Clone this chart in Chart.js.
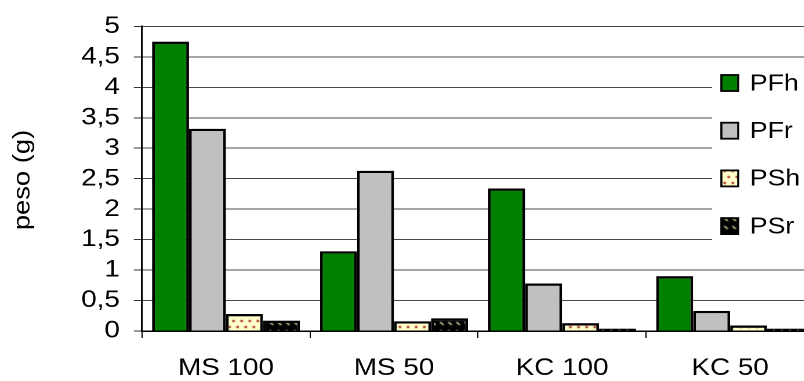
<!DOCTYPE html>
<html>
<head>
<meta charset="utf-8">
<script src="https://cdn.jsdelivr.net/npm/chart.js@4"></script>
<style>
  html, body { margin: 0; padding: 0; background: #fff; overflow: hidden; }
  #chart { display: block; }
</style>
</head>
<body>
<!-- drawn a little narrower and widened by CSS so the Arial text comes out broad -->
<canvas id="chart" width="720" height="381" style="width:835px;height:381px"></canvas>
<script>
// Data
const categories = ['MS 100', 'MS 50', 'KC 100', 'KC 50'];
const seriesNames = ['PFh', 'PFr', 'PSh', 'PSr'];
const pfhValues = [4.75, 1.31, 2.34, 0.90];
const pfrValues = [3.32, 2.63, 0.78, 0.33];
const pshValues = [0.28, 0.16, 0.13, 0.09];
const psrValues = [0.17, 0.21, 0.04, 0.04];
const yAxisTitle = 'peso (g)';

const STRETCH = 835 / 720;
const FONT = "'Liberation Sans', Arial, sans-serif";

// Fill patterns for the two dry-weight series
function dotPattern() {
    const c = document.createElement('canvas');
    c.width = 7; c.height = 12;
    const g = c.getContext('2d');
    g.fillStyle = '#ffffcc';
    g.fillRect(0, 0, 7, 12);
    g.fillStyle = '#a8322c';
    [[1.8, 3], [5.3, 9]].forEach(([x, y]) => {
        g.beginPath();
        g.arc(x, y, 1.25, 0, Math.PI * 2);
        g.fill();
    });
    return g.createPattern(c, 'repeat');
}

function hatchPattern() {
    const c = document.createElement('canvas');
    c.width = 7; c.height = 8;
    const g = c.getContext('2d');
    g.fillStyle = '#000';
    g.fillRect(0, 0, 7, 8);
    g.strokeStyle = '#d9d9a6';
    g.lineWidth = 1.3;
    g.beginPath();
    g.moveTo(1.5, 2);
    g.lineTo(4.5, 5);
    g.stroke();
    return g.createPattern(c, 'repeat');
}

const seriesFills = ['#008000', '#c0c0c0', dotPattern(), hatchPattern()];
const seriesData = [pfhValues, pfrValues, pshValues, psrValues];

// Legend drawn over the right side of the plot on a white panel
const overlayLegend = {
    id: 'overlayLegend',
    afterDraw(chart) {
        const ctx = chart.ctx;
        ctx.save();
        ctx.fillStyle = '#fff';
        ctx.fillRect(614, 60, 110, 195);
        chart.data.datasets.forEach((ds, i) => {
            const cy = 83 + i * 47.7;
            ctx.fillStyle = ds.backgroundColor;
            ctx.fillRect(622, cy - 8, 14.5, 16);
            ctx.lineWidth = 1.8;
            ctx.strokeStyle = '#000';
            ctx.strokeRect(622, cy - 8, 14.5, 16);
            ctx.fillStyle = '#000';
            ctx.font = '23px ' + FONT;
            ctx.textBaseline = 'middle';
            ctx.fillText(ds.label, 646.5, cy + 1);
        });
        ctx.restore();
    }
};

// Rotated axis title, stretched along its length like the other text
const sideTitle = {
    id: 'sideTitle',
    afterDraw(chart) {
        const ctx = chart.ctx;
        ctx.save();
        ctx.translate(23 / STRETCH, 180);
        ctx.rotate(-Math.PI / 2);
        ctx.scale(1.14, 1 / STRETCH);
        ctx.fillStyle = '#000';
        ctx.font = '24px ' + FONT;
        ctx.textAlign = 'center';
        ctx.textBaseline = 'middle';
        ctx.fillText(yAxisTitle, 0, 0);
        ctx.restore();
    }
};

Chart.defaults.font.family = FONT;
Chart.defaults.color = '#000';

new Chart(document.getElementById('chart').getContext('2d'), {
    type: 'bar',
    data: {
        labels: categories,
        datasets: seriesNames.map((name, i) => ({
            label: name,
            data: seriesData[i],
            backgroundColor: seriesFills[i],
            borderColor: '#000',
            borderWidth: 2.4,
            categoryPercentage: 0.88,
            barPercentage: 1.0
        }))
    },
    options: {
        responsive: false,
        devicePixelRatio: 2,
        animation: false,
        layout: { padding: { top: 25, right: 18, bottom: 0, left: 0 } },
        plugins: {
            legend: { display: false },
            tooltip: { enabled: false }
        },
        scales: {
            x: {
                grid: {
                    offset: true,
                    drawOnChartArea: false,
                    drawTicks: true,
                    tickLength: 7,
                    color: '#000'
                },
                border: { display: true, color: '#000', width: 1.5 },
                ticks: { font: { size: 24 }, padding: 16, maxRotation: 0, autoSkip: false },
                afterFit: s => { s.height = 50; }
            },
            y: {
                min: 0,
                max: 5,
                grid: { color: '#4a4a4a', lineWidth: 1, tickLength: 7, tickColor: '#333' },
                border: { display: true, color: '#000', width: 1.5 },
                ticks: {
                    stepSize: 0.5,
                    autoSkip: false,
                    font: { size: 24 },
                    padding: 12,
                    callback: v => String(v).replace('.', ',')
                },
                afterFit: s => { s.width = 122.4; }
            }
        }
    },
    plugins: [overlayLegend, sideTitle]
});
</script>
</body>
</html>
